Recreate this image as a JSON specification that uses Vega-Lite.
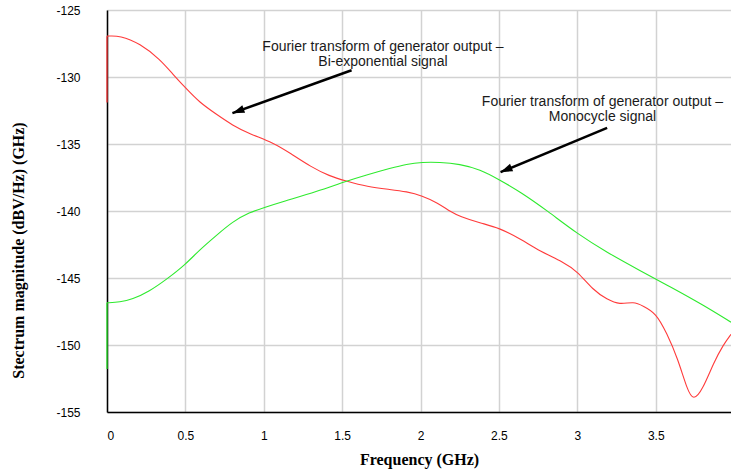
{
  "$schema": "https://vega.github.io/schema/vega-lite/v6.json",
  "autosize": "none",
  "width": 624,
  "height": 402,
  "padding": {"left": 107, "top": 10, "right": 0, "bottom": 62},
  "background": "white",
  "config": {
    "view": {"stroke": null},
    "axis": {
      "gridColor": "#d2d2d2",
      "gridWidth": 1.5,
      "domainColor": "black",
      "domainWidth": 1.5,
      "ticks": false,
      "labelFont": "Liberation Sans",
      "labelFontSize": 12,
      "labelColor": "black",
      "titleFont": "Liberation Serif",
      "titleFontSize": 16,
      "titleFontWeight": "bold",
      "titleColor": "black"
    }
  },
  "datasets": {
    "curves": [
      {"series": "Bi-exponential", "i": 1, "f": 0, "v": -126.95},
      {"series": "Bi-exponential", "i": 2, "f": 0.083, "v": -126.9},
      {"series": "Bi-exponential", "i": 3, "f": 0.21, "v": -127.5},
      {"series": "Bi-exponential", "i": 4, "f": 0.34, "v": -128.7},
      {"series": "Bi-exponential", "i": 5, "f": 0.42, "v": -129.8},
      {"series": "Bi-exponential", "i": 6, "f": 0.5, "v": -130.8},
      {"series": "Bi-exponential", "i": 7, "f": 0.59, "v": -131.9},
      {"series": "Bi-exponential", "i": 8, "f": 0.7, "v": -132.8},
      {"series": "Bi-exponential", "i": 9, "f": 0.8, "v": -133.6},
      {"series": "Bi-exponential", "i": 10, "f": 0.91, "v": -134.25},
      {"series": "Bi-exponential", "i": 11, "f": 1.06, "v": -134.9},
      {"series": "Bi-exponential", "i": 12, "f": 1.17, "v": -135.7},
      {"series": "Bi-exponential", "i": 13, "f": 1.3, "v": -136.7},
      {"series": "Bi-exponential", "i": 14, "f": 1.42, "v": -137.4},
      {"series": "Bi-exponential", "i": 15, "f": 1.52, "v": -137.75},
      {"series": "Bi-exponential", "i": 16, "f": 1.66, "v": -138.2},
      {"series": "Bi-exponential", "i": 17, "f": 1.81, "v": -138.4},
      {"series": "Bi-exponential", "i": 18, "f": 1.91, "v": -138.55},
      {"series": "Bi-exponential", "i": 19, "f": 2.01, "v": -138.85},
      {"series": "Bi-exponential", "i": 20, "f": 2.11, "v": -139.4},
      {"series": "Bi-exponential", "i": 21, "f": 2.19, "v": -140.05},
      {"series": "Bi-exponential", "i": 22, "f": 2.25, "v": -140.4},
      {"series": "Bi-exponential", "i": 23, "f": 2.38, "v": -140.9},
      {"series": "Bi-exponential", "i": 24, "f": 2.5, "v": -141.25},
      {"series": "Bi-exponential", "i": 25, "f": 2.64, "v": -142.1},
      {"series": "Bi-exponential", "i": 26, "f": 2.76, "v": -143.0},
      {"series": "Bi-exponential", "i": 27, "f": 2.91, "v": -143.8},
      {"series": "Bi-exponential", "i": 28, "f": 3.0, "v": -144.5},
      {"series": "Bi-exponential", "i": 29, "f": 3.1, "v": -145.9},
      {"series": "Bi-exponential", "i": 30, "f": 3.19, "v": -146.6},
      {"series": "Bi-exponential", "i": 31, "f": 3.27, "v": -147.0},
      {"series": "Bi-exponential", "i": 32, "f": 3.36, "v": -146.75},
      {"series": "Bi-exponential", "i": 33, "f": 3.42, "v": -147.1},
      {"series": "Bi-exponential", "i": 34, "f": 3.5, "v": -147.6},
      {"series": "Bi-exponential", "i": 35, "f": 3.57, "v": -149.1},
      {"series": "Bi-exponential", "i": 36, "f": 3.64, "v": -151.0},
      {"series": "Bi-exponential", "i": 37, "f": 3.7, "v": -153.3},
      {"series": "Bi-exponential", "i": 38, "f": 3.74, "v": -154.2},
      {"series": "Bi-exponential", "i": 39, "f": 3.8, "v": -153.3},
      {"series": "Bi-exponential", "i": 40, "f": 3.87, "v": -151.3},
      {"series": "Bi-exponential", "i": 41, "f": 3.93, "v": -150.0},
      {"series": "Bi-exponential", "i": 42, "f": 3.98, "v": -149.2},
      {"series": "Monocycle", "i": 1, "f": 0, "v": -146.85},
      {"series": "Monocycle", "i": 2, "f": 0.083, "v": -146.8},
      {"series": "Monocycle", "i": 3, "f": 0.16, "v": -146.6},
      {"series": "Monocycle", "i": 4, "f": 0.27, "v": -146.0},
      {"series": "Monocycle", "i": 5, "f": 0.38, "v": -145.1},
      {"series": "Monocycle", "i": 6, "f": 0.5, "v": -144.0},
      {"series": "Monocycle", "i": 7, "f": 0.59, "v": -142.9},
      {"series": "Monocycle", "i": 8, "f": 0.7, "v": -141.8},
      {"series": "Monocycle", "i": 9, "f": 0.8, "v": -140.8},
      {"series": "Monocycle", "i": 10, "f": 0.91, "v": -140.1},
      {"series": "Monocycle", "i": 11, "f": 1.0, "v": -139.75},
      {"series": "Monocycle", "i": 12, "f": 1.12, "v": -139.3},
      {"series": "Monocycle", "i": 13, "f": 1.34, "v": -138.55},
      {"series": "Monocycle", "i": 14, "f": 1.52, "v": -137.8},
      {"series": "Monocycle", "i": 15, "f": 1.66, "v": -137.3},
      {"series": "Monocycle", "i": 16, "f": 1.81, "v": -136.8},
      {"series": "Monocycle", "i": 17, "f": 1.91, "v": -136.5},
      {"series": "Monocycle", "i": 18, "f": 2.01, "v": -136.35},
      {"series": "Monocycle", "i": 19, "f": 2.12, "v": -136.35},
      {"series": "Monocycle", "i": 20, "f": 2.25, "v": -136.5},
      {"series": "Monocycle", "i": 21, "f": 2.38, "v": -136.9},
      {"series": "Monocycle", "i": 22, "f": 2.5, "v": -137.65},
      {"series": "Monocycle", "i": 23, "f": 2.64, "v": -138.6},
      {"series": "Monocycle", "i": 24, "f": 2.81, "v": -140.0},
      {"series": "Monocycle", "i": 25, "f": 3.0, "v": -141.7},
      {"series": "Monocycle", "i": 26, "f": 3.19, "v": -143.1},
      {"series": "Monocycle", "i": 27, "f": 3.4, "v": -144.45},
      {"series": "Monocycle", "i": 28, "f": 3.6, "v": -145.7},
      {"series": "Monocycle", "i": 29, "f": 3.8, "v": -147.0},
      {"series": "Monocycle", "i": 30, "f": 3.98, "v": -148.3}
    ],
    "starts": [
      {"series": "Bi-exponential", "f": 0, "v": -131.9, "v2": -126.95},
      {"series": "Monocycle", "f": 0, "v": -151.8, "v2": -146.85}
    ],
    "arrows": [
      {"f": 1.56, "v": -129.5, "f2": 0.8, "v2": -132.7},
      {"f": 3.19, "v": -133.8, "f2": 2.51, "v2": -137.1}
    ],
    "labels": [
      {"f": 1.76, "v": -127.76, "text": "Fourier transform of generator output –"},
      {"f": 1.76, "v": -128.88, "text": "Bi-exponential signal"},
      {"f": 3.16, "v": -131.85, "text": "Fourier transform of generator output –"},
      {"f": 3.16, "v": -132.97, "text": "Monocycle signal"}
    ]
  },
  "layer": [
    {
      "data": {"name": "curves"},
      "mark": {"type": "line", "interpolate": "basis", "strokeWidth": 1.1},
      "encoding": {
        "x": {
          "field": "f", "type": "quantitative",
          "scale": {"domain": [0, 3.98], "nice": false, "zero": false},
          "axis": {
            "title": "Frequency (GHz)",
            "values": [0, 0.5, 1, 1.5, 2, 2.5, 3, 3.5],
            "labelExpr": "datum.value + ''",
            "labelPadding": 18,
            "titlePadding": 10
          }
        },
        "y": {
          "field": "v", "type": "quantitative",
          "scale": {"domain": [-155, -125], "nice": false, "zero": false},
          "axis": {
            "title": "Stectrum magnitude (dBV/Hz) (GHz)",
            "values": [-155, -150, -145, -140, -135, -130, -125],
            "labelExpr": "datum.value + ''",
            "labelPadding": 27,
            "titleX": -81,
            "titleY": 240
          }
        },
        "color": {
          "field": "series", "type": "nominal",
          "scale": {"domain": ["Bi-exponential", "Monocycle"], "range": ["#ff3b3b", "#2eea2e"]},
          "legend": null
        },
        "order": {"field": "i", "type": "quantitative"}
      }
    },
    {
      "data": {"name": "starts"},
      "mark": {"type": "rule", "strokeWidth": 1.3},
      "encoding": {
        "x": {"field": "f", "type": "quantitative"},
        "y": {"field": "v", "type": "quantitative"},
        "y2": {"field": "v2"},
        "color": {"field": "series", "type": "nominal", "legend": null}
      }
    },
    {
      "mark": {"type": "rule", "color": "black", "strokeWidth": 1.5},
      "encoding": {"y": {"datum": -125}}
    },
    {
      "data": {"name": "arrows"},
      "mark": {"type": "rule", "color": "black", "strokeWidth": 2.5},
      "encoding": {
        "x": {"field": "f", "type": "quantitative"},
        "y": {"field": "v", "type": "quantitative"},
        "x2": {"field": "f2"},
        "y2": {"field": "v2"}
      }
    },
    {
      "data": {"values": [{"f": 0.8, "v": -132.7}]},
      "mark": {"type": "point", "shape": "M0,0L-1,3L1,3Z", "filled": true, "size": 64, "angle": 250, "color": "black", "opacity": 1},
      "encoding": {
        "x": {"field": "f", "type": "quantitative"},
        "y": {"field": "v", "type": "quantitative"}
      }
    },
    {
      "data": {"values": [{"f": 2.51, "v": -137.1}]},
      "mark": {"type": "point", "shape": "M0,0L-1,3L1,3Z", "filled": true, "size": 64, "angle": 247, "color": "black", "opacity": 1},
      "encoding": {
        "x": {"field": "f", "type": "quantitative"},
        "y": {"field": "v", "type": "quantitative"}
      }
    },
    {
      "data": {"name": "labels"},
      "mark": {"type": "text", "font": "Liberation Sans", "fontSize": 14, "color": "#1a1a1a", "align": "center", "baseline": "middle"},
      "encoding": {
        "x": {"field": "f", "type": "quantitative"},
        "y": {"field": "v", "type": "quantitative"},
        "text": {"field": "text"}
      }
    }
  ]
}
